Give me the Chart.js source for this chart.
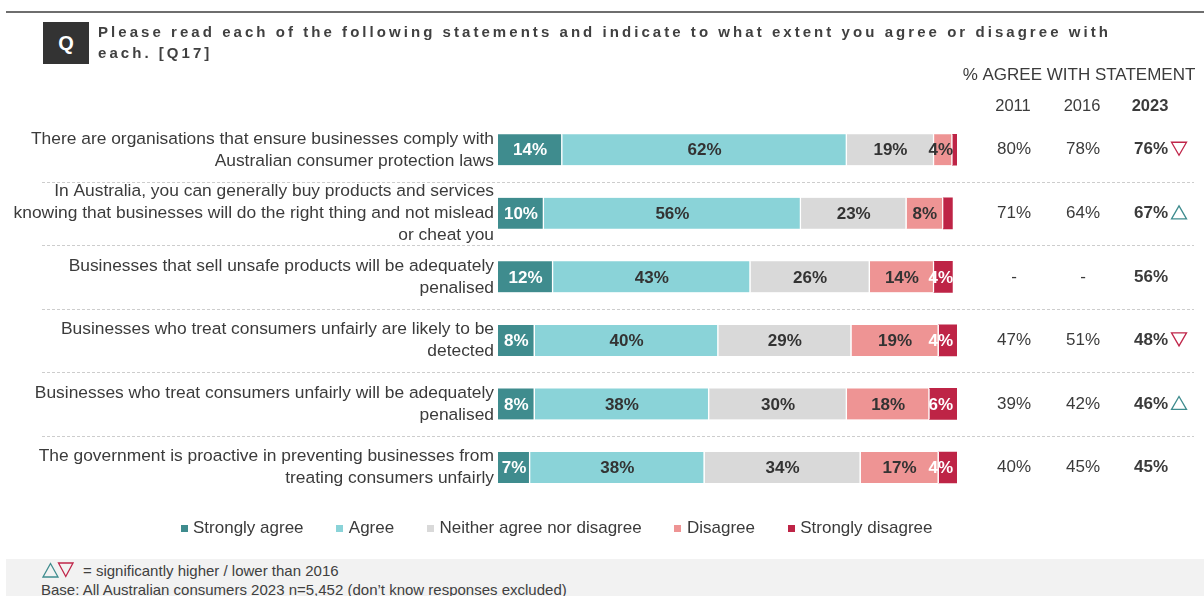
<!DOCTYPE html>
<html>
<head>
<meta charset="utf-8">
<script src="https://cdn.jsdelivr.net/npm/chart.js@4.4.0/dist/chart.umd.min.js"></script>
<style>
  html, body { margin: 0; padding: 0; background: #fff; width: 1204px; height: 596px; overflow: hidden;
    font-family: "Liberation Sans", Arial, Helvetica, sans-serif; }
  #wrap { position: relative; width: 1204px; height: 596px; }
  #chart { position: absolute; left: 0; top: 0; }
  #topline { position: absolute; left: 6px; top: 11px; width: 1198px; height: 2px; background: #6e6e6e; }
  #qbox { position: absolute; left: 43px; top: 22px; width: 46px; height: 42px; background: #333;
    color: #fff; font-weight: bold; font-size: 20px; display: flex; align-items: center; justify-content: center; }
  #title { position: absolute; left: 98px; top: 21px; font-weight: bold; font-size: 15px; letter-spacing: 3.05px;
    line-height: 21px; color: #404040; white-space: nowrap; }
  #foot { position: absolute; left: 6px; top: 559px; width: 1198px; height: 37px; background: #f2f2f2;
    color: #404040; font-size: 15px; overflow: hidden; }
  #foot .l1 { position: absolute; left: 36px; top: 2px; height: 18px; display: flex; align-items: center; white-space: nowrap; }
  #foot .l1 svg { margin-right: 9px; }
  #foot .l2 { position: absolute; left: 35px; top: 22px; white-space: nowrap; line-height: 18px; }
</style>
</head>
<body>
<div id="wrap">
  <canvas id="chart" width="1204" height="596"></canvas>
  <div id="topline"></div>
  <div id="qbox">Q</div>
  <div id="title">Please read each of the following statements and indicate to what extent you agree or disagree with<br>each. [Q17]</div>
  <div id="foot">
    <div class="l1">
      <svg width="32" height="16" viewBox="0 0 32 16">
        <polygon points="1,15 8.5,1.5 16,15" fill="none" stroke="#3f8c8e" stroke-width="1.3"/>
        <polygon points="16.5,1 31,1 23.75,14.5" fill="none" stroke="#c0264a" stroke-width="1.3"/>
      </svg>
      <span>= significantly higher / lower than 2016</span>
    </div>
    <div class="l2">Base: All Australian consumers 2023 n=5,452 (don’t know responses excluded)</div>
  </div>
</div>
<script>
// Statements (one entry per bar, split into display lines)
const statements = [
  ['There are organisations that ensure businesses comply with', 'Australian consumer protection laws'],
  ['In Australia, you can generally buy products and services', 'knowing that businesses will do the right thing and not mislead', 'or cheat you'],
  ['Businesses that sell unsafe products will be adequately', 'penalised'],
  ['Businesses who treat consumers unfairly are likely to be', 'detected'],
  ['Businesses who treat consumers unfairly will be adequately', 'penalised'],
  ['The government is proactive in preventing businesses from', 'treating consumers unfairly']
];

// Response shares (%), 2023
const seriesNames = ['Strongly agree', 'Agree', 'Neither agree nor disagree', 'Disagree', 'Strongly disagree'];
const stronglyAgree    = [14, 10, 12, 8, 8, 7];
const agree            = [62, 56, 43, 40, 38, 38];
const neither          = [19, 23, 26, 29, 30, 34];
const disagree         = [4, 8, 14, 19, 18, 17];
const stronglyDisagree = [1, 2, 4, 4, 6, 4];

// Trend table: % agree with statement
const tableHeading = '% AGREE WITH STATEMENT';
const tableYears = ['2011', '2016', '2023'];
const agree2011 = [80, 71, null, 47, 39, 40];
const agree2016 = [78, 64, null, 51, 42, 45];
const agree2023 = [76, 67, 56, 48, 46, 45];
const change2023 = ['down', 'up', null, 'down', 'up', null];

const FONT = '"Liberation Sans", Arial, Helvetica, sans-serif';
const TEXT = '#3b3b3b';
const seriesColors = ['#3f8c8e', '#8ad3d8', '#d9d9d9', '#ee9494', '#be2446'];
const valueColors = ['#ffffff', '#333333', '#333333', '#333333', '#ffffff'];
const UP = '#3f8c8e', DOWN = '#c0264a';
const LEGEND_FONT = 17;
const LEGEND_GAP = 35.75;

const seriesValues = [stronglyAgree, agree, neither, disagree, stronglyDisagree];

// Small square swatches for the legend
function swatch(color) {
  const c = document.createElement('canvas');
  c.width = 7; c.height = 7;
  const g = c.getContext('2d');
  g.fillStyle = color;
  g.fillRect(0, 0, 7, 7);
  return c;
}
const swatches = seriesColors.map(swatch);

const datasets = seriesNames.map((name, i) => ({
  label: name,
  data: seriesValues[i],
  backgroundColor: seriesColors[i],
  borderColor: '#ffffff',
  borderWidth: i < seriesNames.length - 1 ? { top: 0, right: 1.5, bottom: 0, left: 0 } : 0,
  borderSkipped: false,
  barThickness: 31
}));

// Dashed separators between statements, across the whole row
const separators = {
  id: 'separators',
  beforeDatasetsDraw(chart) {
    const { ctx } = chart;
    const y = chart.scales.y;
    ctx.save();
    ctx.strokeStyle = '#cdcdcd';
    ctx.lineWidth = 1;
    ctx.setLineDash([3, 2]);
    for (let i = 0; i < statements.length - 1; i++) {
      const py = Math.round((y.getPixelForValue(i) + y.getPixelForValue(i + 1)) / 2) + 0.5;
      ctx.beginPath();
      ctx.moveTo(42, py);
      ctx.lineTo(1194, py);
      ctx.stroke();
    }
    ctx.restore();
  }
};

// Percent labels inside each segment
const segmentLabels = {
  id: 'segmentLabels',
  afterDatasetsDraw(chart) {
    const { ctx, chartArea } = chart;
    ctx.save();
    ctx.font = 'bold 17px ' + FONT;
    ctx.textAlign = 'center';
    ctx.textBaseline = 'middle';
    chart.data.datasets.forEach((ds, di) => {
      const meta = chart.getDatasetMeta(di);
      meta.data.forEach((bar, i) => {
        const v = ds.data[i];
        if (v < 3) return;
        const txt = v + '%';
        const w = ctx.measureText(txt).width;
        let cx = (bar.x + bar.base) / 2;
        cx = Math.min(cx, chartArea.right - 4 - w / 2);
        ctx.fillStyle = valueColors[di];
        ctx.fillText(txt, cx, bar.y + 1);
      });
    });
    ctx.restore();
  }
};

// Keep the legend row close under the last bar
const legendPlacement = {
  id: 'legendPlacement',
  afterLayout(chart) {
    const lg = chart.legend;
    const shift = LEGEND_GAP + LEGEND_FONT / 2 - 29;
    lg.top -= shift;
    lg.bottom -= shift;
  }
};

function triangle(ctx, x, cy, dir, color) {
  const w = 15, h = 13;
  ctx.save();
  ctx.strokeStyle = color;
  ctx.lineWidth = 1.3;
  ctx.beginPath();
  if (dir === 'down') {
    ctx.moveTo(x, cy - h / 2);
    ctx.lineTo(x + w, cy - h / 2);
    ctx.lineTo(x + w / 2, cy + h / 2);
  } else {
    ctx.moveTo(x, cy + h / 2);
    ctx.lineTo(x + w, cy + h / 2);
    ctx.lineTo(x + w / 2, cy - h / 2);
  }
  ctx.closePath();
  ctx.stroke();
  ctx.restore();
}

// Trend table on the right, aligned with the bar rows
const trendTable = {
  id: 'trendTable',
  afterDraw(chart) {
    const { ctx } = chart;
    const y = chart.scales.y;
    const cols = [1014, 1083, 1151];
    ctx.save();
    ctx.fillStyle = TEXT;
    ctx.textBaseline = 'middle';
    ctx.textAlign = 'center';
    ctx.font = '17px ' + FONT;
    ctx.fillText(tableHeading, 1079, 75);
    tableYears.forEach((yr, j) => {
      ctx.font = (j === 2 ? 'bold ' : '') + '16.5px ' + FONT;
      ctx.fillText(yr, cols[j] - 1, 106);
    });
    const columns = [agree2011, agree2016, agree2023];
    statements.forEach((s, i) => {
      const py = y.getPixelForValue(i);
      columns.forEach((col, j) => {
        const v = col[i];
        ctx.font = (j === 2 ? 'bold ' : '') + '17px ' + FONT;
        ctx.fillStyle = TEXT;
        const txt = v === null ? '-' : v + '%';
        ctx.fillText(txt, cols[j], py);
        if (j === 2 && change2023[i]) {
          const w = ctx.measureText(txt).width;
          triangle(ctx, cols[j] + w / 2 + 3.5, py - 1, change2023[i], change2023[i] === 'up' ? UP : DOWN);
        }
      });
    });
    ctx.restore();
  }
};

const ctx = document.getElementById('chart').getContext('2d');
new Chart(ctx, {
  type: 'bar',
  data: { labels: statements, datasets },
  options: {
    indexAxis: 'y',
    responsive: false,
    animation: false,
    events: [],
    layout: { padding: { top: 118, bottom: 596 - 499.25 - (LEGEND_FONT + LEGEND_GAP + 10), left: 0, right: 88 } },
    scales: {
      x: { stacked: true, min: 0, max: 100, display: false },
      y: {
        stacked: true,
        position: 'left',
        grid: { display: false, drawTicks: false },
        border: { display: false },
        ticks: {
          autoSkip: false,
          color: TEXT,
          padding: 4,
          crossAlign: 'near',
          font: { family: FONT, size: 17.4, lineHeight: 1.27 }
        },
        afterFit(scale) { scale.width = 498; }
      },
      yRight: {
        type: 'category',
        axis: 'y',
        position: 'right',
        grid: { display: false, drawTicks: false },
        border: { display: false },
        ticks: { display: false },
        afterFit(scale) { scale.width = 159; }
      }
    },
    plugins: {
      legend: {
        position: 'bottom',
        labels: {
          usePointStyle: true,
          pointStyleWidth: 1,
          boxHeight: 7,
          padding: LEGEND_GAP,
          color: TEXT,
          font: { family: FONT, size: LEGEND_FONT },
          generateLabels(chart) {
            return Chart.defaults.plugins.legend.labels.generateLabels(chart).map((l, i) => ({
              ...l, lineWidth: 0, strokeStyle: 'rgba(0,0,0,0)', pointStyle: swatches[i]
            }));
          }
        }
      },
      title: { display: false },
      tooltip: { enabled: false }
    }
  },
  plugins: [separators, segmentLabels, legendPlacement, trendTable]
});
</script>
</body>
</html>
